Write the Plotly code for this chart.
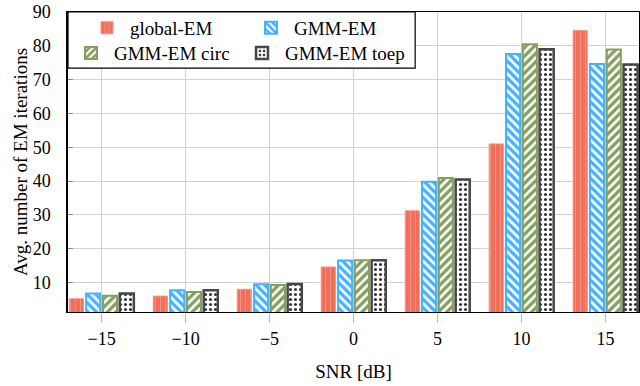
import plotly.graph_objects as go

snr = [-15, -10, -5, 0, 5, 10, 15]

global_em = [5.2, 6.0, 8.0, 14.6, 31.2, 51.0, 84.5]
gmm_em = [6.8, 7.7, 9.5, 16.5, 39.8, 77.6, 74.6]
gmm_em_circ = [6.1, 7.2, 9.3, 16.6, 40.9, 80.5, 78.9]
gmm_em_toep = [6.8, 7.7, 9.6, 16.6, 40.5, 79.0, 74.5]

names = ["global-EM", "GMM-EM", "GMM-EM circ", "GMM-EM toep"]
series = [global_em, gmm_em, gmm_em_circ, gmm_em_toep]

FONT = "Liberation Serif"

styles = [
    dict(line="#F58E7E", lw=1, shape="|", bg="#F06E5A",
         fg="rgba(255,255,255,0.35)", size=5, sol=0.15, legend="legend"),
    dict(line="#45B2FF", lw=2, shape="\\", bg="white",
         fg="#45B2FF", size=6, sol=0.55, legend="legend"),
    dict(line="#83A05F", lw=2, shape="/", bg="white",
         fg="#83A05F", size=6, sol=0.55, legend="legend2"),
    dict(line="#474747", lw=2.5, shape=".", bg="white",
         fg="#333333", size=5, sol=0.3, legend="legend2"),
]

fig = go.Figure()

for i, (name, vals, st) in enumerate(zip(names, series, styles)):
    fig.add_trace(go.Bar(
        x=snr,
        y=vals,
        name=name,
        offset=-1.92 + i * 1.0,
        width=0.84,
        marker=dict(
            color=st["bg"],
            line=dict(color=st["line"], width=st["lw"]),
            pattern=dict(shape=st["shape"], fgcolor=st["fg"], bgcolor=st["bg"],
                         size=st["size"], solidity=st["sol"], fillmode="replace"),
        ),
        legend=st["legend"],
        base=0,
    ))

# legend frame
fig.add_shape(type="rect", xref="paper", yref="paper",
              x0=0, x1=0.608, y0=0.813, y1=1,
              line=dict(color="black", width=1.2), fillcolor="white", layer="above")

leg_common = dict(orientation="h", bgcolor="rgba(0,0,0,0)", borderwidth=0,
                  font=dict(family=FONT, size=19, color="black"),
                  entrywidthmode="pixels",
                  xanchor="left", yanchor="middle", itemwidth=36)

fig.update_layout(
    width=640, height=386,
    barmode="overlay",
    plot_bgcolor="white", paper_bgcolor="white",
    margin=dict(l=68, r=1, t=12, b=74, autoexpand=False),
    font=dict(family=FONT, size=18, color="black"),
    showlegend=True,
    legend=dict(x=0.028, y=0.947, entrywidth=113, **leg_common),
    legend2=dict(x=0.0, y=0.863, entrywidth=120, **leg_common),
    xaxis=dict(
        range=[-17, 17],
        tickvals=snr,
        ticktext=["\u221215", "\u221210", "\u22125", "0", "5", "10", "15"],
        showgrid=True, gridcolor="#D3D3D3", gridwidth=1,
        ticks="outside", ticklen=10, tickcolor="#BDBDBD",
        showline=True, linecolor="black", linewidth=1.2, mirror=True,
        zeroline=False, automargin=False,
        title=dict(text="SNR [dB]", standoff=16, font=dict(family=FONT, size=19)),
        tickfont=dict(family=FONT, size=18),
    ),
    yaxis=dict(
        range=[1.3, 90],
        tickvals=[10, 20, 30, 40, 50, 60, 70, 80, 90],
        showgrid=True, gridcolor="#D3D3D3", gridwidth=1,
        ticks="inside", ticklen=5, tickcolor="#888888",
        showline=True, linecolor="black", linewidth=1.5, mirror=True,
        zeroline=False, automargin=False,
        ticklabelstandoff=12,
        title=dict(text="Avg. number of EM iterations", standoff=0,
                   font=dict(family=FONT, size=19)),
        tickfont=dict(family=FONT, size=18),
    ),
)

# page body has a default 8px margin; remove it so the figure sits at the corner
fig.write_html("out.html", config={"displayModeBar": False},
               post_script="document.body.style.margin='0';")
